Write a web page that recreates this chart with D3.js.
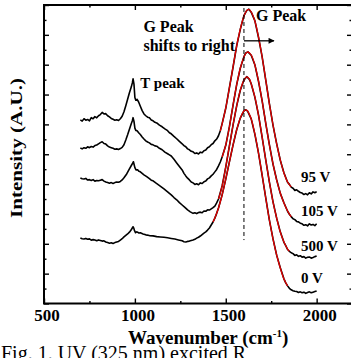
<!DOCTYPE html>
<html>
<head>
<meta charset="utf-8">
<script src="https://cdn.jsdelivr.net/npm/d3@7"></script>
<style>
  body { margin: 0; background: #fff; }
  svg { display: block; }
  text { font-family: "Times New Roman", "Liberation Serif", serif; }
</style>
</head>
<body>
<div class="display"></div>
<script>
// axis ticks
const wavenumberTicks = [500, 1000, 1500, 2000];
const wavenumberMinorTicks = [750, 1250, 1750];
const intensityMajorTicks = [0, 2, 4, 6, 8, 10, 12, 14, 16, 18, 20];
const intensityMinorTicks = [1, 3, 5, 7, 9, 11, 13, 15, 17, 19];

const curveLabels = ['95 V', '105 V', '500 V', '0 V'];

// measured spectra [wavenumber, intensity]
const spectrum95 = [[700,12.30],[710,12.22],[720,12.38],[730,12.28],[740,12.33],[750,12.24],[760,12.45],[770,12.38],[780,12.52],[790,12.44],[800,12.58],[810,12.66],[820,12.80],[830,12.70],[840,12.72],[850,12.58],[860,12.50],[870,12.40],[880,12.34],[890,12.28],[900,12.31],[910,12.26],[920,12.38],[930,12.55],[940,12.85],[950,13.25],[960,13.68],[970,14.12],[980,14.50],[986,14.78],[990,15.05],[995,14.70],[1000,13.80],[1005,13.62],[1012,13.68],[1020,13.52],[1030,13.22],[1040,12.92],[1050,12.70],[1060,12.58],[1070,12.48],[1080,12.44],[1090,12.30],[1100,12.24],[1110,12.14],[1120,12.10],[1135,11.95],[1150,11.84],[1165,11.70],[1180,11.58],[1190,11.44],[1200,11.37],[1215,11.20],[1230,11.04],[1245,10.86],[1260,10.70],[1270,10.58],[1280,10.50],[1290,10.36],[1300,10.30],[1310,10.20],[1320,10.16],[1330,10.05],[1340,10.09],[1350,10.02],[1360,10.14],[1370,10.10],[1380,10.24],[1390,10.28],[1400,10.44],[1410,10.50],[1420,10.64],[1430,10.72],[1440,10.90],[1450,11.02],[1460,11.24],[1470,11.58],[1480,12.05],[1500,13.08],[1520,14.46],[1540,15.83],[1560,17.27],[1580,18.37],[1600,19.28],[1615,19.62],[1627,19.72],[1640,19.52],[1660,18.95],[1680,17.84],[1700,16.54],[1720,14.96],[1740,13.39],[1760,11.94],[1780,10.71],[1800,9.60],[1820,8.76],[1840,8.12],[1850,7.98],[1860,7.80],[1870,7.72],[1880,7.58],[1890,7.62],[1900,7.52],[1910,7.44],[1920,7.40],[1930,7.30],[1940,7.36],[1950,7.28],[1960,7.42],[1970,7.34],[1980,7.48],[1990,7.42],[2000,7.50]];
const spectrum105 = [[700,10.42],[710,10.36],[720,10.44],[730,10.40],[740,10.50],[750,10.44],[760,10.52],[770,10.48],[780,10.58],[790,10.62],[800,10.70],[810,10.78],[820,10.84],[830,10.72],[840,10.68],[850,10.56],[860,10.48],[870,10.44],[880,10.40],[890,10.34],[900,10.36],[910,10.32],[920,10.38],[930,10.46],[940,10.64],[950,10.95],[960,11.30],[970,11.68],[980,12.04],[986,12.25],[990,12.45],[995,12.20],[1000,11.75],[1005,11.60],[1012,11.58],[1022,11.42],[1030,11.32],[1040,11.16],[1050,11.02],[1060,10.90],[1070,10.82],[1080,10.76],[1090,10.66],[1100,10.63],[1110,10.56],[1120,10.54],[1135,10.40],[1150,10.30],[1165,10.14],[1180,10.03],[1190,9.96],[1200,9.88],[1215,9.66],[1230,9.42],[1245,9.18],[1260,8.95],[1270,8.72],[1280,8.55],[1290,8.40],[1300,8.28],[1310,8.14],[1320,8.08],[1330,7.98],[1340,8.02],[1350,7.96],[1360,8.08],[1370,8.04],[1380,8.15],[1390,8.20],[1400,8.35],[1410,8.42],[1420,8.55],[1430,8.66],[1440,8.82],[1450,8.98],[1460,9.22],[1470,9.48],[1480,9.82],[1500,10.60],[1520,11.85],[1540,13.28],[1560,14.66],[1580,15.76],[1600,16.54],[1610,16.78],[1622,16.86],[1640,16.63],[1660,16.00],[1680,14.89],[1700,13.59],[1720,12.07],[1740,10.64],[1760,9.33],[1780,8.29],[1800,7.38],[1820,6.75],[1840,6.18],[1850,5.98],[1860,5.82],[1870,5.68],[1880,5.62],[1890,5.50],[1900,5.47],[1910,5.38],[1920,5.34],[1930,5.24],[1940,5.28],[1950,5.20],[1960,5.34],[1970,5.26],[1980,5.30],[1990,5.22],[2000,5.34]];
const spectrum500 = [[700,8.41],[710,8.36],[720,8.34],[730,8.38],[740,8.27],[750,8.30],[760,8.24],[770,8.30],[780,8.20],[790,8.24],[800,8.22],[810,8.26],[820,8.30],[830,8.20],[840,8.14],[850,8.10],[860,8.06],[870,8.10],[880,8.04],[890,8.10],[900,8.14],[910,8.12],[920,8.18],[930,8.28],[940,8.42],[955,8.68],[970,9.02],[982,9.28],[988,9.40],[992,9.50],[996,9.30],[1000,9.10],[1006,8.95],[1015,8.96],[1022,8.86],[1030,8.82],[1040,8.72],[1050,8.62],[1065,8.50],[1080,8.36],[1090,8.26],[1100,8.22],[1115,8.08],[1130,7.95],[1145,7.82],[1160,7.68],[1180,7.48],[1200,7.28],[1215,7.10],[1230,6.95],[1245,6.76],[1260,6.60],[1275,6.44],[1290,6.27],[1305,6.14],[1320,6.04],[1330,6.08],[1340,6.02],[1350,6.10],[1360,6.12],[1370,6.08],[1380,6.20],[1390,6.18],[1400,6.27],[1410,6.26],[1420,6.34],[1430,6.42],[1440,6.53],[1450,6.74],[1460,7.00],[1480,7.88],[1500,9.14],[1520,10.56],[1540,11.95],[1560,13.24],[1580,14.29],[1600,14.98],[1615,15.20],[1630,15.02],[1640,14.72],[1660,13.83],[1680,12.64],[1700,11.15],[1720,9.62],[1740,8.13],[1760,6.81],[1780,5.72],[1800,4.80],[1820,4.10],[1830,3.88],[1840,3.62],[1850,3.50],[1860,3.40],[1870,3.34],[1880,3.22],[1890,3.26],[1900,3.16],[1910,3.20],[1920,3.10],[1930,3.14],[1940,3.04],[1950,3.10],[1960,3.12],[1970,3.04],[1980,3.08],[1990,3.14],[2000,3.18]];
const spectrum0 = [[700,4.39],[710,4.34],[720,4.32],[730,4.36],[740,4.30],[750,4.33],[760,4.24],[770,4.28],[780,4.25],[790,4.20],[800,4.26],[810,4.22],[820,4.18],[830,4.20],[840,4.12],[850,4.08],[860,4.04],[870,4.07],[880,4.02],[890,4.08],[900,4.12],[910,4.16],[920,4.25],[930,4.34],[940,4.46],[950,4.56],[960,4.66],[970,4.78],[978,4.90],[985,5.04],[990,5.14],[994,5.05],[998,4.88],[1004,4.74],[1010,4.80],[1015,4.78],[1022,4.72],[1030,4.74],[1045,4.66],[1060,4.60],[1080,4.55],[1100,4.53],[1120,4.48],[1140,4.46],[1160,4.44],[1180,4.40],[1200,4.36],[1220,4.32],[1240,4.26],[1260,4.20],[1270,4.14],[1280,4.12],[1290,4.16],[1300,4.18],[1310,4.22],[1320,4.25],[1330,4.30],[1340,4.38],[1350,4.44],[1360,4.52],[1370,4.62],[1380,4.72],[1390,4.80],[1400,4.92],[1410,5.06],[1420,5.26],[1430,5.46],[1440,5.72],[1450,6.04],[1460,6.40],[1480,7.28],[1500,8.33],[1520,9.49],[1540,10.61],[1560,11.64],[1580,12.42],[1600,12.91],[1610,12.98],[1620,12.89],[1640,12.37],[1660,11.35],[1680,10.09],[1700,8.60],[1720,7.08],[1740,5.59],[1760,4.33],[1780,3.24],[1800,2.39],[1820,1.65],[1830,1.38],[1840,1.18],[1850,1.02],[1860,0.92],[1870,0.86],[1880,0.82],[1890,0.80],[1900,0.74],[1910,0.78],[1920,0.72],[1930,0.76],[1940,0.68],[1950,0.74],[1960,0.78],[1970,0.72],[1980,0.76],[1990,0.80],[2000,0.84]];

// G band fits
const fit95 = [[1470,11.55],[1480,12.03],[1500,13.10],[1520,14.44],[1540,15.85],[1560,17.25],[1580,18.39],[1600,19.26],[1615,19.62],[1627,19.70],[1640,19.53],[1660,18.93],[1680,17.86],[1700,16.52],[1720,14.98],[1740,13.37],[1760,11.96],[1780,10.69],[1800,9.62],[1820,8.74],[1840,8.14],[1860,7.81]];
const fit105 = [[1480,9.81],[1500,10.62],[1520,11.83],[1540,13.30],[1560,14.64],[1580,15.78],[1600,16.52],[1610,16.76],[1622,16.85],[1640,16.65],[1660,15.98],[1680,14.91],[1700,13.57],[1720,12.09],[1740,10.62],[1760,9.35],[1780,8.27],[1800,7.40],[1820,6.73],[1840,6.20],[1860,5.80]];
const fit500 = [[1460,7.00],[1480,7.87],[1500,9.15],[1520,10.55],[1540,11.96],[1560,13.23],[1580,14.30],[1600,14.97],[1615,15.18],[1630,15.04],[1640,14.71],[1660,13.84],[1680,12.63],[1700,11.16],[1720,9.61],[1740,8.14],[1760,6.80],[1780,5.73],[1800,4.79],[1820,4.12],[1840,3.65],[1850,3.50]];
const fit0 = [[1430,5.46],[1440,5.73],[1460,6.40],[1480,7.27],[1500,8.34],[1520,9.48],[1540,10.62],[1560,11.63],[1580,12.43],[1600,12.90],[1610,12.97],[1620,12.90],[1640,12.36],[1660,11.36],[1680,10.08],[1700,8.61],[1720,7.07],[1740,5.60],[1760,4.32],[1780,3.25],[1800,2.38],[1820,1.64],[1840,1.17]];

const spectra = [spectrum95, spectrum105, spectrum500, spectrum0];
const fits = [fit95, fit105, fit500, fit0];
const labelLevels = [8.14, 5.86, 3.52, 1.37];

const width = 351, height = 358;

const svg = d3.select('.display')
  .append('svg')
  .attr('width', width)
  .attr('height', height);

const x = d3.scaleLinear().domain([500, 2200]).range([44, 353]);
const y = d3.scaleLinear().domain([0, 20]).range([303.5, 5]);

// ticks pointing inward, on all four sides
function tickAxis(axis, scale, values, size, transform) {
  const g = svg.append('g')
    .attr('transform', transform)
    .call(axis(scale).tickValues(values).tickSize(size).tickSizeOuter(0).tickFormat(''));
  g.select('.domain').remove();
  g.selectAll('line').attr('stroke-width', 1.4);
  return g;
}
tickAxis(d3.axisBottom, x, wavenumberTicks, -5, `translate(0,${y(0)})`);
tickAxis(d3.axisBottom, x, wavenumberMinorTicks, -2.5, `translate(0,${y(0)})`);
tickAxis(d3.axisTop, x, wavenumberTicks, -5, `translate(0,${y(20)})`);
tickAxis(d3.axisTop, x, wavenumberMinorTicks, -2.5, `translate(0,${y(20)})`);
tickAxis(d3.axisLeft, y, intensityMajorTicks, -5, `translate(${x(500)},0)`);
tickAxis(d3.axisLeft, y, intensityMinorTicks, -2.5, `translate(${x(500)},0)`);
tickAxis(d3.axisRight, y, intensityMajorTicks, -5, `translate(${x(2200) - 1},0)`);
tickAxis(d3.axisRight, y, intensityMinorTicks, -2.5, `translate(${x(2200) - 1},0)`);

// tick labels
svg.append('g')
  .attr('transform', `translate(0,${y(0)})`)
  .call(d3.axisBottom(x).tickValues(wavenumberTicks).tickSize(0).tickPadding(5).tickFormat(d3.format('d')))
  .call(g => g.select('.domain').remove())
  .selectAll('text')
  .attr('dx', 2.5)
  .attr('font-weight', 'bold')
  .attr('font-size', 17)
  .attr('fill', '#000');

// frame
svg.append('rect')
  .attr('x', x(500))
  .attr('y', y(20))
  .attr('width', x(2200) - x(500))
  .attr('height', y(0) - y(20))
  .attr('fill', 'none')
  .attr('stroke', '#000')
  .attr('stroke-width', 2);

const line = d3.line().x(d => x(d[0])).y(d => y(d[1]));
const smooth = d3.line().x(d => x(d[0])).y(d => y(d[1])).curve(d3.curveCatmullRom);

spectra.forEach(s => {
  svg.append('path')
    .datum(s)
    .attr('fill', 'none')
    .attr('stroke', '#000')
    .attr('stroke-width', 1.6)
    .attr('stroke-linejoin', 'round')
    .attr('d', line);
});

fits.forEach(f => {
  svg.append('path')
    .datum(f)
    .attr('fill', 'none')
    .attr('stroke', '#e00000')
    .attr('stroke-width', 1.3)
    .attr('d', smooth);
});

// G peak position marker
svg.append('line')
  .attr('x1', x(1600)).attr('x2', x(1600))
  .attr('y1', y(19.8)).attr('y2', y(4.25))
  .attr('stroke', '#000')
  .attr('stroke-width', 1)
  .attr('stroke-dasharray', '4,3');

svg.append('defs').append('marker')
  .attr('id', 'arrow')
  .attr('viewBox', '0 0 10 10')
  .attr('refX', 9).attr('refY', 5)
  .attr('markerWidth', 9).attr('markerHeight', 6)
  .attr('markerUnits', 'userSpaceOnUse')
  .attr('orient', 'auto')
  .append('path')
  .attr('d', 'M0,0L10,5L0,10z')
  .attr('fill', '#000');

svg.append('line')
  .attr('x1', x(1600)).attr('x2', x(1765))
  .attr('y1', y(17.6)).attr('y2', y(17.6))
  .attr('stroke', '#000')
  .attr('stroke-width', 1.3)
  .attr('marker-end', 'url(#arrow)');

function label(wn, v, txt, size) {
  return svg.append('text')
    .attr('x', x(wn))
    .attr('y', y(v))
    .attr('font-weight', 'bold')
    .attr('font-size', size)
    .text(txt);
}

label(1666, 18.93, 'G Peak', 16);
label(1047, 18.19, 'G Peak', 16);
label(1047, 16.92, 'shifts to right', 16);
label(1030, 14.44, 'T peak', 15);
curveLabels.forEach((c, i) => label(1914, labelLevels[i], c, 15));

// axis titles
svg.append('text')
  .attr('transform', 'translate(22,148) rotate(-90)')
  .attr('text-anchor', 'middle')
  .attr('font-weight', 'bold')
  .attr('font-size', 17)
  .attr('textLength', 140)
  .attr('lengthAdjust', 'spacingAndGlyphs')
  .text('Intensity (A.U.)');

const xTitle = svg.append('text')
  .attr('x', 128)
  .attr('y', 344)
  .attr('font-weight', 'bold')
  .attr('font-size', 19);
xTitle.append('tspan').text('Wavenumber (cm');
xTitle.append('tspan').attr('dy', -7).attr('font-size', 11).text('-1');
xTitle.append('tspan').attr('dy', 7).text(')');

// caption under the figure
svg.append('text')
  .attr('x', 1)
  .attr('y', 360)
  .attr('font-size', 20)
  .text('Fig. 1. UV (325 nm) excited R');
</script>
</body>
</html>
